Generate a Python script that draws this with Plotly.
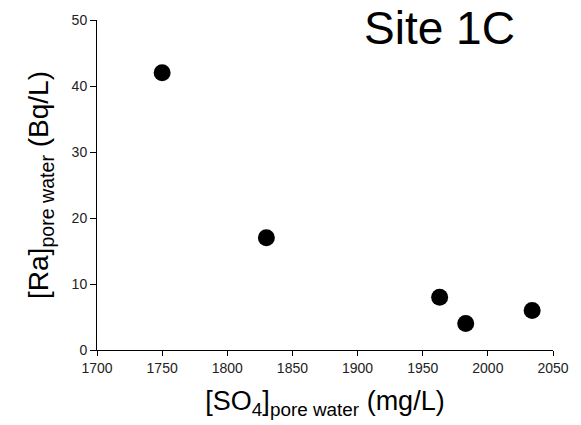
import plotly.graph_objects as go

so4 = [1750, 1830, 1963, 1983, 2034]
ra = [42, 17, 8, 4, 6]
x_ticks = [1700, 1750, 1800, 1850, 1900, 1950, 2000, 2050]
y_ticks = [0, 10, 20, 30, 40, 50]

FONT = "Arial, Liberation Sans, sans-serif"

fig = go.Figure()
fig.add_trace(go.Scatter(x=so4, y=ra, mode="markers",
                         marker=dict(size=17, color="black"),
                         showlegend=False, cliponaxis=False))

fig.update_layout(
    width=581, height=425,
    margin=dict(l=97, r=20, t=20, b=75),
    paper_bgcolor="white", plot_bgcolor="white",
    font=dict(family=FONT, color="black"),
    xaxis=dict(range=[1700, 2050], tickvals=x_ticks, showline=True,
               linecolor="black", linewidth=1, ticks="outside", ticklen=5,
               tickcolor="black", showgrid=False, zeroline=False,
               tickfont=dict(size=14, family=FONT, color="#222"),
               title=dict(text="[SO<sub>4</sub>]<sub>pore water</sub> (mg/L)",
                          font=dict(size=27, family=FONT, color="black"),
                          standoff=16)),
    yaxis=dict(range=[0, 50], tickvals=y_ticks, showline=True,
               linecolor="black", linewidth=1, ticks="outside", ticklen=6,
               tickcolor="black", showgrid=False, zeroline=False,
               tickfont=dict(size=14, family=FONT, color="#222"),
               title=dict(text="[Ra]<sub>pore water</sub> (Bq/L)",
                          font=dict(size=28, family=FONT, color="black"),
                          standoff=14)),
    annotations=[dict(text="Site 1C", xref="paper", yref="paper",
                      x=0.921, y=0.976, xanchor="right", yanchor="middle",
                      showarrow=False,
                      font=dict(size=46, family=FONT, color="black"))],
)

fig.write_html("out.html")
